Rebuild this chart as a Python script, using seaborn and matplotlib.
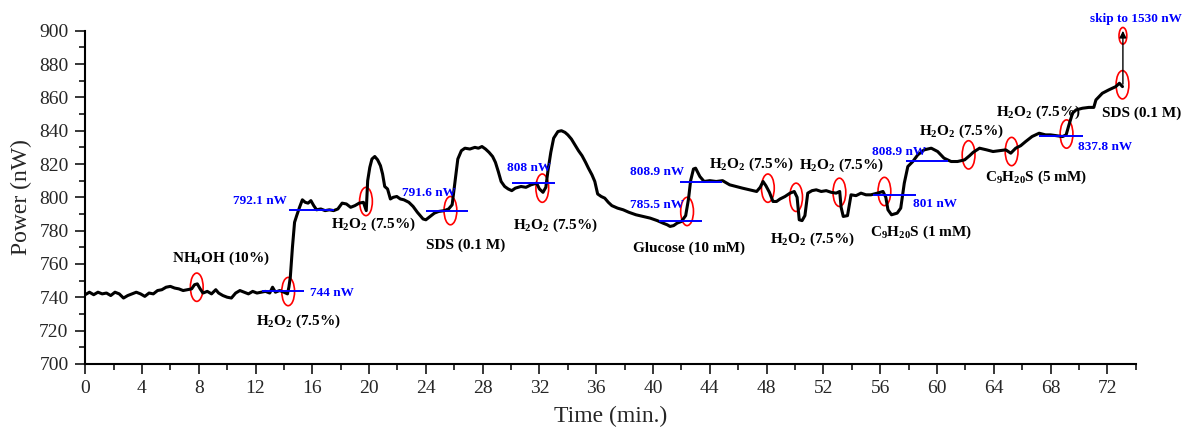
import numpy as np
import seaborn as sns
import matplotlib.pyplot as plt
from matplotlib.patches import Ellipse
from matplotlib.ticker import MultipleLocator

# trace (time in min, power in nW)
time_min = [0.0, 0.3, 0.6, 0.9, 1.2, 1.5, 1.8, 2.1, 2.4, 2.7, 3.0, 3.3, 3.6, 3.9, 4.2, 4.5, 4.8,
            5.1, 5.4, 5.7, 6.0, 6.3, 6.6, 6.9, 7.2, 7.5, 7.7, 7.9, 8.1, 8.3, 8.6, 8.9, 9.2, 9.4,
            9.7, 10.0, 10.3, 10.6, 10.9, 11.2, 11.5, 11.8, 12.1, 12.4, 12.7, 13.0, 13.2, 13.4,
            13.7, 14.0, 14.25, 14.35, 14.45, 14.6, 14.75, 14.9, 15.1, 15.3, 15.5, 15.7, 15.9,
            16.1, 16.3, 16.6, 16.9, 17.2, 17.5, 17.8, 18.1, 18.4, 18.7, 19.0, 19.3, 19.6, 19.8,
            19.9, 20.05, 20.2, 20.4, 20.6, 20.8, 20.95, 21.1, 21.3, 21.5, 21.7, 21.95, 22.2,
            22.45, 22.8, 23.1, 23.4, 23.8, 24.0, 24.3, 24.6, 24.9, 25.3, 25.6, 25.85, 26.05,
            26.25, 26.5, 26.75, 27.1, 27.45, 27.7, 27.95, 28.2, 28.45, 28.7, 28.9, 29.1, 29.3,
            29.55, 29.8, 30.05, 30.3, 30.7, 31.05, 31.4, 31.8, 32.0, 32.25, 32.45, 32.6, 32.8,
            33.0, 33.3, 33.55, 33.8, 34.0, 34.25, 34.5, 34.75, 35.0, 35.25, 35.45, 35.7, 35.9,
            36.1, 36.35, 36.6, 36.85, 37.1, 37.5, 37.9, 38.3, 38.8, 39.3, 39.8, 40.3, 40.7,
            41.0, 41.2, 41.45, 41.7, 42.0, 42.3, 42.5, 42.65, 42.85, 43.0, 43.15, 43.3, 43.6,
            44.0, 44.45, 44.9, 45.4, 45.85, 46.3, 46.8, 47.3, 47.55, 47.75, 47.95, 48.2, 48.45,
            48.7, 48.95, 49.3, 49.65, 49.95, 50.15, 50.3, 50.5, 50.7, 50.9, 51.2, 51.5, 51.85,
            52.2, 52.55, 52.9, 53.15, 53.25, 53.4, 53.7, 53.95, 54.3, 54.65, 55.0, 55.35, 55.8,
            56.2, 56.4, 56.55, 56.8, 57.2, 57.45, 57.7, 57.95, 58.3, 58.65, 59.1, 59.6, 60.05,
            60.5, 61.0, 61.45, 61.95, 62.3, 62.55, 63.0, 63.5, 63.95, 64.4, 64.85, 65.2, 65.55,
            65.9, 66.25, 66.7, 67.2, 67.65, 68.0, 68.4, 68.85, 69.1, 69.3, 69.55, 69.8, 70.25,
            70.7, 71.05, 71.2, 71.65, 72.1, 72.6, 72.85, 73.07]
power_nw = [741.5, 743, 741.5, 743, 742, 742.5, 741, 743, 742, 739.5, 741, 742, 743, 742, 740.5,
            742.5, 742, 744, 744.5, 746, 746.5, 745.5, 745, 744, 744.5, 745, 747.5, 748, 745,
            742.5, 743.5, 742, 744.5, 742.5, 741, 740, 739.5, 742.5, 744, 743, 742, 743.5, 742.5,
            743, 743.5, 742.5, 746, 743, 744, 743, 742, 746, 752, 770, 785, 789, 794, 798.5, 797,
            796.5, 798, 795, 792.5, 793, 792, 792.5, 792, 793, 796.5, 796, 794, 795, 796.5, 797,
            792, 810, 818, 823, 824.5, 822.5, 819, 814, 806.5, 805, 799, 800, 800.5, 799, 798.5,
            797, 794.5, 791, 787, 786.5, 788.5, 790.5, 791.5, 792, 793, 795.5, 809.5, 823, 828,
            829.5, 829, 830, 829.5, 830.5, 829, 827, 824.5, 821, 815.5, 809.5, 806.5, 805, 804,
            805.5, 806.5, 806, 807.5, 808.5, 805, 803, 806, 816, 827, 835.5, 839.5, 840, 839,
            837.5, 835, 831.5, 828, 825, 821, 817.5, 813.5, 809.5, 802, 800.5, 799.5, 797, 795,
            793.5, 792.5, 791, 789.5, 788.5, 787.5, 786, 784.5, 783.5, 782.5, 783, 784.5, 785.5,
            789, 799, 810, 817, 817.5, 815, 812.5, 809.5, 810, 809.5, 810, 807.5, 806.5, 805.5,
            804.5, 803.5, 806, 809.5, 807, 803, 797.5, 797.5, 799, 800.5, 802.5, 803.5, 800,
            786.5, 786, 789, 802.5, 804, 804.5, 803.5, 804, 803, 802.5, 803.5, 794, 788.5, 789,
            801.5, 801, 802.5, 801.5, 801.5, 802.5, 803.5, 800, 792.5, 789.5, 790.5, 793.5,
            808.5, 818.5, 821.5, 825.5, 828.5, 829.5, 827.5, 823.5, 821.5, 821.5, 822.5, 825,
            827, 829.5, 828.5, 827.5, 828, 828.5, 826.5, 829.5, 831, 833.5, 836.5, 838.5, 837.5,
            837.5, 837, 836.5, 837.5, 843.5, 850.5, 852.5, 853.5, 854, 854, 858.5, 862.5, 864.5,
            866.5, 868.5, 866.5]

# jump at the end, drawn as an arrow
skip_t = 73.1
skip_from = 868
skip_to = 900

# red circles marking the injections
circle_t = [7.86, 14.3, 19.78, 25.73, 32.2, 42.4, 48.09, 50.08, 53.13, 56.3, 62.23, 65.26, 69.13, 73.07]
circle_p = [746, 743.4, 797.5, 792, 805.5, 791.5, 805.5, 800, 803, 803.5, 825.5, 827.5, 838, 867.6]

# blue reference levels: (level, start, end)
ref_level = [744, 792.1, 792, 808.5, 809.3, 785.7, 801.3, 821.7, 836.9]
ref_start = [12.45, 14.35, 24.0, 30.1, 41.9, 40.4, 55.5, 57.8, 67.2]
ref_end = [15.4, 17.5, 27.0, 33.1, 44.85, 43.45, 58.5, 60.75, 70.3]

# blue value labels
val_text = ['744 nW', '792.1 nW', '791.6 nW', '808 nW', '808.9 nW', '785.5 nW', '801 nW', '808.9 nW', '837.8 nW']
val_t = [15.85, 14.2, 24.25, 31.25, 42.2, 42.15, 58.3, 57.3, 69.95]
val_p = [742.5, 797.5, 802.7, 817.7, 815, 795.5, 795.7, 827.3, 830.5]
val_ha = ['left', 'right', 'center', 'center', 'right', 'right', 'left', 'center', 'left']

# black injection labels
H2O2 = r'H$_\mathbf{2}$O$_\mathbf{2}$ (7.5%)'
inj_text = [r'NH$_\mathbf{4}$OH (10%)', H2O2, H2O2, 'SDS (0.1 M)', H2O2, 'Glucose (10 mM)', H2O2,
            H2O2, H2O2, r'C$_\mathbf{9}$H$_\mathbf{20}$S (1 mM)', H2O2,
            r'C$_\mathbf{9}$H$_\mathbf{20}$S (5 mM)', H2O2, 'SDS (0.1 M)']
inj_t = [9.54, 15.0, 20.3, 26.8, 33.15, 42.5, 46.95, 53.25, 51.2, 58.9, 61.75, 66.97, 67.17, 74.4]
inj_p = [763.5, 725.4, 783.5, 771, 782.9, 769.5, 820, 819, 774.5, 779, 839.5, 812, 851, 850.2]

sns.set_style('ticks')
plt.rcParams['font.family'] = ['Liberation Serif', 'DejaVu Serif']
plt.rcParams['mathtext.fontset'] = 'custom'
plt.rcParams['mathtext.rm'] = 'Liberation Serif'
plt.rcParams['mathtext.bf'] = 'Liberation Serif:bold'
plt.rcParams['mathtext.it'] = 'Liberation Serif:italic'

fig, ax = plt.subplots(figsize=(11.83, 4.28), dpi=100)
fig.subplots_adjust(left=0.072, right=0.960, top=0.928, bottom=0.150)

sns.lineplot(x=time_min, y=power_nw, ax=ax, color='black', lw=2.2, estimator=None, sort=False)

ax.annotate('', xy=(skip_t, skip_to), xytext=(skip_t, skip_from),
            arrowprops=dict(arrowstyle='-|>', color='black', lw=1.0, mutation_scale=10,
                            shrinkA=0, shrinkB=0), annotation_clip=False)

for t, p in zip(circle_t, circle_p):
    ax.add_patch(Ellipse((t, p), width=0.9, height=17, fill=False, edgecolor='red', lw=1.2, clip_on=False))
ax.add_patch(Ellipse((skip_t, 897), width=0.55, height=10, fill=False, edgecolor='red', lw=1.2, clip_on=False))

ax.hlines(ref_level, ref_start, ref_end, color='blue', lw=1.4)

for s, t, p, ha in zip(val_text, val_t, val_p, val_ha):
    ax.text(t, p, s, color='blue', fontsize=9.5, fontweight='bold', ha=ha, va='center')
for s, t, p in zip(inj_text, inj_t, inj_p):
    ax.text(t, p, s, color='black', fontsize=11, fontweight='bold', ha='center', va='center', clip_on=False)
ax.text(74.0, 907, 'skip to 1530 nW', color='blue', fontsize=9.5, fontweight='bold',
        ha='center', va='center', clip_on=False)

# axes
ax.set_xlim(0, 74)
ax.set_ylim(700, 900)
ax.xaxis.set_major_locator(MultipleLocator(4))
ax.xaxis.set_minor_locator(MultipleLocator(2))
ax.yaxis.set_major_locator(MultipleLocator(20))
ax.yaxis.set_minor_locator(MultipleLocator(10))
ax.tick_params(which='major', direction='out', length=7, width=1.1, labelsize=14, color='black', pad=5)
ax.tick_params(which='minor', direction='out', length=4, width=1.1, color='black')
sns.despine(ax=ax)
for side in ['left', 'bottom']:
    ax.spines[side].set_linewidth(1.5)
    ax.spines[side].set_color('black')
ax.set_xlabel('Time (min.)', fontsize=17, labelpad=6)
ax.set_ylabel('Power (nW)', fontsize=17, labelpad=5)

fig.savefig('out.png', dpi=100)
